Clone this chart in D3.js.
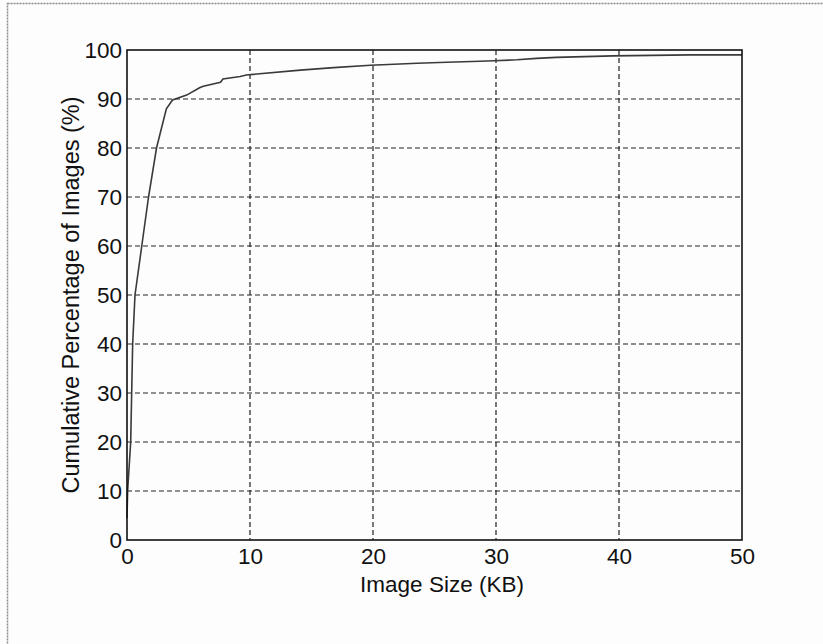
<!DOCTYPE html>
<html>
<head>
<meta charset="utf-8">
<script src="https://cdn.jsdelivr.net/npm/d3@7/dist/d3.min.js"></script>
<style>
  html, body { margin: 0; padding: 0; background: #fdfdfd; }
  svg { display: block; }
  text { font-family: "Liberation Sans", Arial, sans-serif; fill: #111; }
</style>
</head>
<body>
<svg id="chart" width="823" height="644"></svg>
<script>
// Cumulative distribution of image sizes
const sizeKB = [0, 0.05, 0.3, 0.38, 0.46, 0.65, 1.2, 1.75, 2.4, 2.7, 3.2, 3.7, 4.85, 5.9, 6.2, 7.6, 7.8, 9.2, 9.7, 14.1, 16.8, 19.8, 23.6, 26.0, 28.7, 29.8, 31.7, 33.3, 34.9, 39.5, 45.8, 50];
const cumulativePct = [4.5, 10, 20, 30, 40, 50, 60, 70, 80, 83, 88, 89.8, 90.8, 92.3, 92.6, 93.4, 94.1, 94.6, 94.9, 95.9, 96.4, 96.9, 97.3, 97.5, 97.7, 97.8, 98.0, 98.3, 98.5, 98.8, 99.0, 99.0];
const xTicks = [0, 10, 20, 30, 40, 50];
const yTicks = [0, 10, 20, 30, 40, 50, 60, 70, 80, 90, 100];
const xLabel = "Image Size (KB)";
const yLabel = "Cumulative Percentage of Images (%)";

const svg = d3.select("#chart");
const W = 823, H = 644;
const margin = { left: 127, top: 50, right: 81, bottom: 104 };
const iw = W - margin.left - margin.right;
const ih = H - margin.top - margin.bottom;

// page frame
svg.append("rect")
  .attr("x", 7.5).attr("y", 3.5)
  .attr("width", W + 10).attr("height", H + 10)
  .attr("fill", "none").attr("stroke", "#8a8a8a")
  .attr("stroke-width", 1.5).attr("stroke-dasharray", "2,1");

const g = svg.append("g").attr("transform", `translate(${margin.left},${margin.top})`);

const x = d3.scaleLinear().domain([0, 50]).range([0, iw]);
const y = d3.scaleLinear().domain([0, 100]).range([ih, 0]);

// dashed grid
g.append("g").selectAll("line").data(xTicks.slice(1, -1)).join("line")
  .attr("x1", d => x(d)).attr("x2", d => x(d))
  .attr("y1", 0).attr("y2", ih)
  .attr("stroke", "#222").attr("stroke-width", 1.2).attr("stroke-dasharray", "5,3");
g.append("g").selectAll("line").data(yTicks.slice(1, -1)).join("line")
  .attr("x1", 0).attr("x2", iw)
  .attr("y1", d => y(d)).attr("y2", d => y(d))
  .attr("stroke", "#222").attr("stroke-width", 1.2).attr("stroke-dasharray", "5,3");

// axes
const xAxis = g.append("g").attr("transform", `translate(0,${ih})`)
  .call(d3.axisBottom(x).tickValues(xTicks).tickSize(0).tickPadding(8).tickFormat(d3.format("d")));
const yAxis = g.append("g")
  .call(d3.axisLeft(y).tickValues(yTicks).tickSize(0).tickPadding(5).tickFormat(d3.format("d")));
[xAxis, yAxis].forEach(a => {
  a.select(".domain").remove();
  a.selectAll("text").attr("font-size", 22.5).attr("font-family", "Liberation Sans, Arial, sans-serif").attr("fill", "#111");
});

// curve
const line = d3.line().x((d, i) => x(sizeKB[i])).y(d => y(d));
g.append("path").datum(cumulativePct)
  .attr("d", line)
  .attr("fill", "none").attr("stroke", "#3a3a3a").attr("stroke-width", 1.6);

// plot box
g.append("rect").attr("x", 0).attr("y", 0).attr("width", iw).attr("height", ih)
  .attr("fill", "none").attr("stroke", "#111").attr("stroke-width", 1.6);

// axis titles
svg.append("text")
  .attr("x", 442).attr("y", 592)
  .attr("text-anchor", "middle").attr("font-size", 22.5)
  .text(xLabel);
svg.append("text")
  .attr("transform", `translate(79,${margin.top + ih / 2}) rotate(-90)`)
  .attr("text-anchor", "middle").attr("font-size", 23.5)
  .text(yLabel);
</script>
</body>
</html>
